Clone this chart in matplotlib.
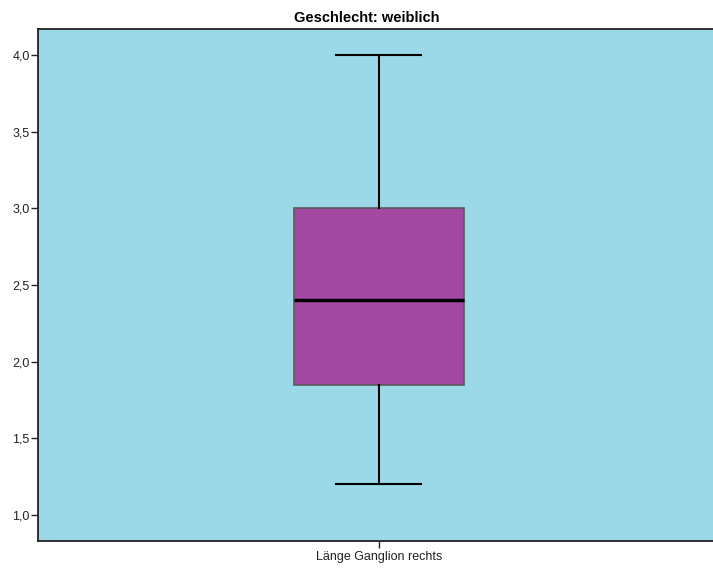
import matplotlib.pyplot as plt
from matplotlib.ticker import FuncFormatter

plt.rcParams['font.family'] = ['Liberation Sans', 'DejaVu Sans']

# box statistics
label = 'Länge Ganglion rechts'
whislo = 1.2
q1 = 1.85
median = 2.4
q3 = 3.0
whishi = 4.0
yticks = [1.0, 1.5, 2.0, 2.5, 3.0, 3.5, 4.0]

stats = [{'label': label, 'whislo': whislo, 'q1': q1, 'med': median,
          'q3': q3, 'whishi': whishi, 'fliers': []}]

fig = plt.figure(figsize=(7.13, 5.70), dpi=100)
ax = fig.add_axes([0.0533, 0.0509, 0.9467, 0.898])
ax.set_facecolor('#9bd9e9')

ax.bxp(stats, positions=[1], widths=0.504, patch_artist=True, showfliers=False,
       boxprops=dict(facecolor='#a349a4', edgecolor='#5a5a5a', linewidth=1.2),
       medianprops=dict(color='black', linewidth=2.5),
       whiskerprops=dict(color='black', linewidth=1.5),
       capprops=dict(color='black', linewidth=1.5))

ax.set_xlim(-0.01, 1.99)
ax.set_ylim(0.83, 4.17)
ax.set_yticks(yticks)
ax.yaxis.set_major_formatter(FuncFormatter(lambda v, p: f'{v:.1f}'.replace('.', ',')))
ax.tick_params(axis='both', labelsize=9, length=5, width=1, color='#222222', labelcolor='#222222')
ax.tick_params(axis='x', pad=2)
ax.tick_params(axis='y', pad=1)

for side in ['top', 'bottom', 'left']:
    ax.spines[side].set_color('#222222')
    ax.spines[side].set_linewidth(1.3)
ax.spines['right'].set_visible(False)

ax.set_title('Geschlecht: weiblich', fontsize=10.5, fontweight='bold', pad=5, x=0.487)

plt.savefig('out.png')
plt.close()
